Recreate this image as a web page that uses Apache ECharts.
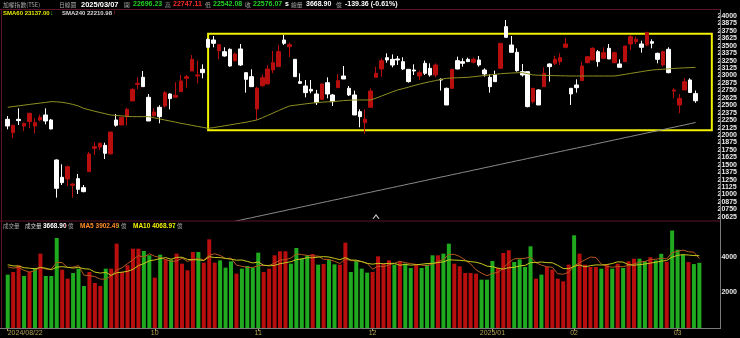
<!DOCTYPE html>
<html><head><meta charset="utf-8">
<script src="https://cdn.jsdelivr.net/npm/echarts/dist/echarts.min.js"></script>
<style>html,body{margin:0;padding:0;background:#000;}#c{width:740px;height:338px;}</style>
</head><body><div id="c"></div>
<script>
// ---------------- data ----------------
const dates = [
 '2024/08/22','2024/08/23','2024/08/26','2024/08/27','2024/08/28','2024/08/29','2024/08/30',
 '2024/09/02','2024/09/03','2024/09/04','2024/09/05','2024/09/06','2024/09/09','2024/09/10','2024/09/11','2024/09/12','2024/09/13',
 '2024/09/16','2024/09/18','2024/09/19','2024/09/20','2024/09/23','2024/09/24','2024/09/25','2024/09/26','2024/09/27','2024/09/30',
 '2024/10/01','2024/10/04','2024/10/07','2024/10/08','2024/10/09','2024/10/11','2024/10/14','2024/10/15','2024/10/16','2024/10/17',
 '2024/10/18','2024/10/21','2024/10/22','2024/10/23','2024/10/24','2024/10/25','2024/10/28','2024/10/29','2024/10/30',
 '2024/11/01','2024/11/04','2024/11/05','2024/11/06','2024/11/07','2024/11/08','2024/11/11','2024/11/12','2024/11/13','2024/11/14',
 '2024/11/15','2024/11/18','2024/11/19','2024/11/20','2024/11/21','2024/11/22','2024/11/25','2024/11/26','2024/11/27','2024/11/28','2024/11/29',
 '2024/12/02','2024/12/03','2024/12/04','2024/12/05','2024/12/06','2024/12/09','2024/12/10','2024/12/11','2024/12/12','2024/12/13',
 '2024/12/16','2024/12/17','2024/12/18','2024/12/19','2024/12/20','2024/12/23','2024/12/24','2024/12/25','2024/12/26','2024/12/27','2024/12/30','2024/12/31',
 '2025/01/02','2025/01/03','2025/01/06','2025/01/07','2025/01/08','2025/01/09','2025/01/10','2025/01/13','2025/01/14','2025/01/15',
 '2025/01/16','2025/01/17','2025/01/20','2025/01/21','2025/01/22',
 '2025/02/03','2025/02/04','2025/02/05','2025/02/06','2025/02/07','2025/02/10','2025/02/11','2025/02/12','2025/02/13','2025/02/14',
 '2025/02/17','2025/02/18','2025/02/19','2025/02/20','2025/02/21','2025/02/24','2025/02/25','2025/02/26','2025/02/27',
 '2025/03/03','2025/03/04','2025/03/05','2025/03/06','2025/03/07'
];
const openPx = [
 22264,22040,22264,22152,22225,22152,22253,22337,22253,21581,
 21290,21262,21155,21267,21116,21385,21777,21799,21827,21682,
 22253,22169,22309,22572,22852,22970,22634,22326,22466,22488,
 22690,22634,22729,22953,23076,22992,23104,23608,23597,23418,
 23401,23440,23250,23446,23048,22981,22438,22830,22858,23093,
 23149,23597,23485,23272,22897,22824,22768,22690,22600,22880,
 22673,22796,22992,22785,22673,22393,22208,22466,22970,23110,
 23300,23272,23278,23233,23104,23093,22992,23205,23121,23009,
 22936,22785,22785,23250,23233,23272,23222,23261,23093,22970,
 23009,23121,23821,23513,23390,23065,23065,22561,22757,22813,
 23194,23205,23233,23474,22785,22841,22914,23216,23261,23401,
 23289,23457,23216,23194,23233,23530,23569,23530,23513,23569,
 23373,23177,23440,22740,22505,22757,22925,22696.23
];
const closePx = [
 22152,22163,22242,22197,22365,22208,22298,22236,22102,21105,
 21200,21469,21177,21088,21049,21682,21805,21861,21693,22051,
 22164,22298,22432,22768,22869,22813,22236,22388,22309,22712,
 22612,22668,22908,22981,23272,23009,23048,23474,23541,23518,
 23328,23160,23362,23177,22936,22813,22785,22964,23110,23216,
 23401,23541,23519,22981,22869,22712,22740,22544,22858,22690,
 22561,22914,22942,22673,22337,22309,22264,22740,23037,23250,
 23261,23177,23261,23110,22897,23076,23048,23037,23009,23177,
 22925,22505,23104,23110,23205,23233,23272,23177,23026,22813,
 22897,23541,23642,23390,23082,23009,22477,22785,22505,23037,
 23149,23272,23300,23530,22690,22796,23160,23317,23457,23233,
 23384,23278,23384,23138,23496,23653,23608,23474,23720,23541,
 23272,23401,23048,22757,22617,22897,22715.43,22576.07
];
const lowPx = [
 22096,21945,22169,22068,22113,22029,22231,22180,22096,20948,
 21161,21144,20948,21010,21038,21385,21665,21749,21598,21682,
 22141,22169,22164,22572,22768,22813,22236,22309,22197,22466,
 22432,22634,22729,22796,23076,22869,22953,23474,23474,23272,
 23317,23149,23233,23160,22712,22813,22253,22813,22858,23037,
 23149,23513,23306,22981,22858,22634,22701,22505,22589,22617,
 22488,22796,22942,22656,22337,22130,22018,22466,22970,22981,
 23216,23138,23177,23093,22880,23009,22925,23009,22981,22970,
 22746,22505,22785,23104,23149,23233,23205,23149,22981,22712,
 22897,23121,23642,23390,23065,22981,22466,22533,22505,22813,
 22897,23177,23177,23457,22505,22712,22914,23205,23261,23149,
 23289,23278,23205,23138,23233,23429,23530,23384,23496,23457,
 23205,23149,23037,22617,22365,22757,22712,22542.08
];
const highPx = [
 22320,22175,22449,22208,22376,22281,22343,22449,22270,21592,
 21508,21486,21189,21346,21161,21716,21878,21872,21872,22051,
 22354,22309,22455,22785,22970,23076,22690,22449,22500,22740,
 22701,22886,23009,23009,23345,23250,23188,23625,23664,23530,
 23474,23457,23384,23530,23048,23104,22813,23020,23177,23412,
 23513,23681,23552,23272,23037,22925,22925,22757,22869,22970,
 22690,23026,23160,22824,22746,22432,22432,22785,23149,23289,
 23373,23356,23328,23306,23104,23188,23082,23250,23205,23205,
 22953,22797,23110,23317,23289,23300,23300,23328,23121,23020,
 23082,23541,23933,23664,23457,23194,23065,22785,22768,23138,
 23205,23328,23373,23625,22785,22936,23233,23328,23474,23429,
 23474,23530,23401,23272,23496,23681,23653,23586,23737,23608,
 23384,23418,23474,22785,22690,22953,22953,22747.11
];
const closeBefore = 22300;   // close of the session before the first bar
const volume = [
 3003,3153,3528,2928,3153,3378,4185,2928,2928,5067,
 3284,2777,3097,3340,2365,3153,2534,2365,3340,3340,
 4748,3153,3528,4466,4466,4335,4091,2834,4129,3866,
 3847,4185,3622,3247,4279,4279,3678,4992,3678,3810,
 3397,3753,3059,3340,3491,3397,4241,3153,3340,4091,
 4316,4316,3622,4504,3903,4091,4166,3566,3603,3847,
 3584,3566,4804,3153,3780,3340,3115,3153,4035,3622,
 3810,3566,3753,3622,3378,3566,3378,3566,4091,4091,
 4185,4748,3622,3472,3097,3097,3059,2721,2721,3772,
 3378,4223,4373,3716,3866,3434,4598,2777,3003,3434,
 3284,2777,2627,3566,5217,4185,3566,3434,3434,3340,
 3566,3340,3622,3378,3753,3903,3903,3753,3987.25,3800,
 4176,3725,5489,4407,4125,3712,3599.55,3668.90
];
const volumeBefore = [3800,3600,3900,3400,3700,3500,3300,3800,3600];
const sma60 = [
 22466,22478,22490,22502,22514,22526,22537,22548,22561,22558,
 22550,22535,22515,22490,22449,22425,22400,22380,22358,22337,
 22330,22322,22315,22309,22309,22309,22309,22290,22272,22253,
 22235,22216,22197,22180,22163,22146,22130,22113,22125,22140,
 22155,22170,22185,22200,22215,22234,22253,22290,22330,22370,
 22410,22450,22488,22500,22512,22524,22535,22545,22553,22558,
 22561,22570,22578,22584,22589,22589,22589,22589,22620,22655,
 22690,22725,22757,22780,22805,22830,22855,22876,22897,22915,
 22935,22953,22958,22962,22966,22970,22980,22990,23000,23010,
 23020,23030,23037,23042,23046,23048,23030,23009,23005,23002,
 23000,22998,22996,22994,22992,22992,22992,22992,22992,22992,
 22992,22992,22992,23005,23020,23035,23050,23065,23080,23093,
 23100,23106,23112,23118,23124,23129,23133,23137.00
];
const sma240 = [
 19734,19752,19773,19791,19812,19830,19851,19869,19890,19908,
 19929,19947,19968,19986,20007,20025,20046,20064,20085,20103,
 20124,20142,20163,20181,20202,20220,20241,20259,20280,20298,
 20319,20337,20358,20376,20397,20415,20436,20454,20475,20493,
 20514,20532,20553,20571,20592,20610,20631,20649,20670,20688,
 20709,20727,20748,20766,20787,20805,20826,20844,20865,20883,
 20904,20922,20943,20961,20982,21000,21021,21039,21060,21078,
 21099,21117,21138,21156,21177,21195,21216,21234,21255,21273,
 21294,21312,21333,21351,21372,21390,21411,21429,21450,21468,
 21489,21507,21528,21546,21567,21585,21606,21624,21645,21663,
 21684,21702,21723,21741,21762,21780,21801,21819,21840,21858,
 21879,21897,21918,21936,21957,21975,21996,22014,22035,22053,
 22074,22092,22113,22131,22152,22170,22191,22210.98
];
const monthTickDates  = ['2024/08/22','2024/10/01','2024/11/01','2024/12/02','2025/01/02','2025/02/03','2025/03/03'];
const monthTickLabels = ['2024/08/22','10','11','12','2025/01','02','03'];
const boxPriceTop = 23700, boxPriceBottom = 22080;   // yellow range frame
const boxStartDate = '2024/10/18';
const padSlots = ['+1','+2','+3'];   // empty slots right of the last bar

// ---------------- derived ----------------
const cats = dates.concat(padSlots);
const n = dates.length;
const candles = dates.map((d,i)=>[openPx[i],closePx[i],lowPx[i],highPx[i]]);
const UP='#b80e0e', DOWN_VOL='#1faa1f';
const volBars = volume.map((v,i)=>{
  const prev = i===0 ? closeBefore : closePx[i-1];
  return {value:v, itemStyle:{color: closePx[i]>=prev ? UP : DOWN_VOL}};
});
function volMA(k){
  const all = volumeBefore.concat(volume), off = volumeBefore.length;
  return volume.map((_,i)=>{const j=i+off, s=Math.max(0,j-k+1); let t=0; for(let q=s;q<=j;q++) t+=all[q]; return +(t/(j-s+1)).toFixed(2);});
}
const ma5 = volMA(5), ma10 = volMA(10);
const tickIdx = new Set(monthTickDates.map(d=>dates.indexOf(d)));
const lastO=openPx[n-1], lastH=highPx[n-1], lastL=lowPx[n-1], lastC=closePx[n-1];
const chg = lastC - closePx[n-2], pct = chg/closePx[n-2]*100;
const f2 = v=>v.toFixed(2);

// ---------------- chart ----------------
const CJK='"Noto Sans CJK TC","Noto Sans",sans-serif';
const LAT='"Liberation Sans",Arial,sans-serif';
function T(x,y,text,fill,size,weight,fam){
  return {type:'text', x:x, y:y, silent:true, z:100,
    style:{text:text, fill:fill, fontSize:size||7, fontWeight:weight||'normal', fontFamily:fam||LAT, verticalAlign:'middle'}};
}
function L(x1,y1,x2,y2,c){return {type:'line', silent:true, z:90, shape:{x1,y1,x2,y2}, style:{stroke:c, lineWidth:1}};}
const GREEN='#22d022', RED='#ff2a2a', GRAY='#a8a8a8';

const chart = echarts.init(document.getElementById('c'), null, {renderer:'canvas'});
chart.setOption({
  animation:false,
  backgroundColor:'#000',
  grid:[
    {left:5, top:8.56, width:715, height:212.04, containLabel:false},
    {left:5, top:221.4, width:715, height:106.6, containLabel:false}
  ],
  xAxis:[
    {type:'category', gridIndex:0, data:cats, show:false, boundaryGap:true},
    {type:'category', gridIndex:1, data:cats, boundaryGap:true,
     axisLine:{show:false},
     axisTick:{show:true, alignWithLabel:true, length:3, interval:(i)=>tickIdx.has(i), lineStyle:{color:'#b4a050'}},
     axisLabel:{show:true, interval:(i)=>tickIdx.has(i), color:'#b4a050', fontSize:7, margin:2, fontFamily:LAT,
       alignMinLabel:'left',
       formatter:(v)=>{const k=monthTickDates.indexOf(v); return k>=0?monthTickLabels[k]:'';}}}
  ],
  yAxis:[
    {type:'value', gridIndex:0, position:'right', min:20562.5, max:24125, interval:62.5,
     splitLine:{show:false}, axisLine:{show:false}, axisTick:{show:false},
     axisLabel:{color:'#e8e8e8', fontSize:7, margin:3, fontFamily:LAT, fontWeight:'bold',
       formatter:(v)=>(v%125===0 && v>=20625 && v<=24000)?String(v):''}},
    {type:'value', gridIndex:1, position:'right', min:0, max:6000, interval:2000,
     splitLine:{show:false}, axisLine:{show:false}, axisTick:{show:false},
     axisLabel:{color:'#e8e8e8', fontSize:7, margin:3, fontFamily:LAT, fontWeight:'bold',
       formatter:(v)=>(v===2000||v===4000)?String(v):''}}
  ],
  series:[
    {type:'candlestick', xAxisIndex:0, yAxisIndex:0, data:candles, barWidth:4,
     itemStyle:{color:UP, color0:'#ffffff', borderColor:UP, borderColor0:'#ffffff', borderWidth:1},
     markArea:{silent:true, itemStyle:{color:'rgba(0,0,0,0)', borderColor:'#f2f200', borderWidth:2},
       data:[[{xAxis:boxStartDate, yAxis:boxPriceTop},{xAxis:cats[cats.length-1], yAxis:boxPriceBottom}]]}},
    {type:'line', xAxisIndex:0, yAxisIndex:0, data:sma60, symbol:'none', lineStyle:{color:'#8f8f22', width:1},
     markPoint:{silent:true, symbol:'path://M0,10L5,0L10,10', symbolSize:[6,4],
       itemStyle:{color:'rgba(0,0,0,0)', borderColor:'#d0d0d0', borderWidth:1}, label:{show:false},
       data:[{coord:[dates[n-60], 20625]}]}},
    {type:'line', xAxisIndex:0, yAxisIndex:0, data:sma240, symbol:'none', lineStyle:{color:'#8a8a8a', width:1}},
    {type:'bar', xAxisIndex:1, yAxisIndex:1, data:volBars, barWidth:4},
    {type:'line', xAxisIndex:1, yAxisIndex:1, data:ma5, symbol:'none', lineStyle:{color:'#b4581e', width:1}},
    {type:'line', xAxisIndex:1, yAxisIndex:1, data:ma10, symbol:'none', lineStyle:{color:'#c8c81e', width:1}}
  ],
  graphic:[
    L(0,9.5,720,9.5,'#5a1426'),
    L(1.5,9.5,1.5,329,'#5a1426'),
    L(0,221,720,221,'#5a1426'),
    L(720.5,9.5,720.5,329,'#7a7a7a'),
    L(0,328.5,720.5,328.5,'#7a7a7a'),
    T(3,4.5,'加權指數(TSE)',GRAY,5.8,'normal',CJK),
    T(59,4.5,'日線圖',GRAY,5.8,'normal',CJK),
    T(81,4.5,dates[n-1],'#ffffff',7.5,'bold'),
    T(124,4.5,'開',GRAY,5.8,'normal',CJK), T(133,4.5,f2(lastO),GREEN,7,'bold'),
    T(165,4.5,'高',GRAY,5.8,'normal',CJK), T(173,4.5,f2(lastH),RED,7,'bold'),
    T(205,4.5,'低',GRAY,5.8,'normal',CJK), T(213,4.5,f2(lastL),GREEN,7,'bold'),
    T(245,4.5,'收',GRAY,5.8,'normal',CJK), T(253,4.5,f2(lastC),GREEN,7,'bold'),
    T(285,4.5,'s','#ffffff',7,'bold'),
    T(291,4.5,'總量',GRAY,5.8,'normal',CJK),
    T(306,4.5,f2(volume[n-1]),'#ffffff',7,'bold'),
    T(336,4.5,'億',GRAY,5.8,'normal',CJK),
    T(345,4.5,f2(chg)+' ('+pct.toFixed(2)+'%)','#ffffff',7,'bold'),
    T(3,13.5,'SMA60 '+f2(sma60[n-1]),'#e6e600',6,'bold'), T(50,13.5,'↓',GREEN,6.5,'bold'),
    T(62,13.5,'SMA240 '+f2(sma240[n-1]),'#d8d8d8',6,'bold'), T(113,13.5,'↑',RED,6.5,'bold'),
    T(3,226,'成交量',GRAY,5.5,'normal',CJK),
    T(25,226,'成交量','#d8d8d8',5.5,'normal',CJK), T(43,226,f2(volume[n-1]),'#ffffff',6.5,'bold'),
    T(64,226,'↑',RED,6.5,'bold'), T(68,226,'億',GRAY,5.5,'normal',CJK),
    T(80,226,'MA5 '+f2(ma5[n-1]),'#ff8c28',6.5,'bold'), T(117,226,'↓',GREEN,6.5,'bold'), T(121,226,'億',GRAY,5.5,'normal',CJK),
    T(133,226,'MA10 '+f2(ma10[n-1]),'#f0f000',6.5,'bold'), T(173,226,'↓',GREEN,6.5,'bold'), T(177,226,'億',GRAY,5.5,'normal',CJK)
  ]
});
</script></body></html>
